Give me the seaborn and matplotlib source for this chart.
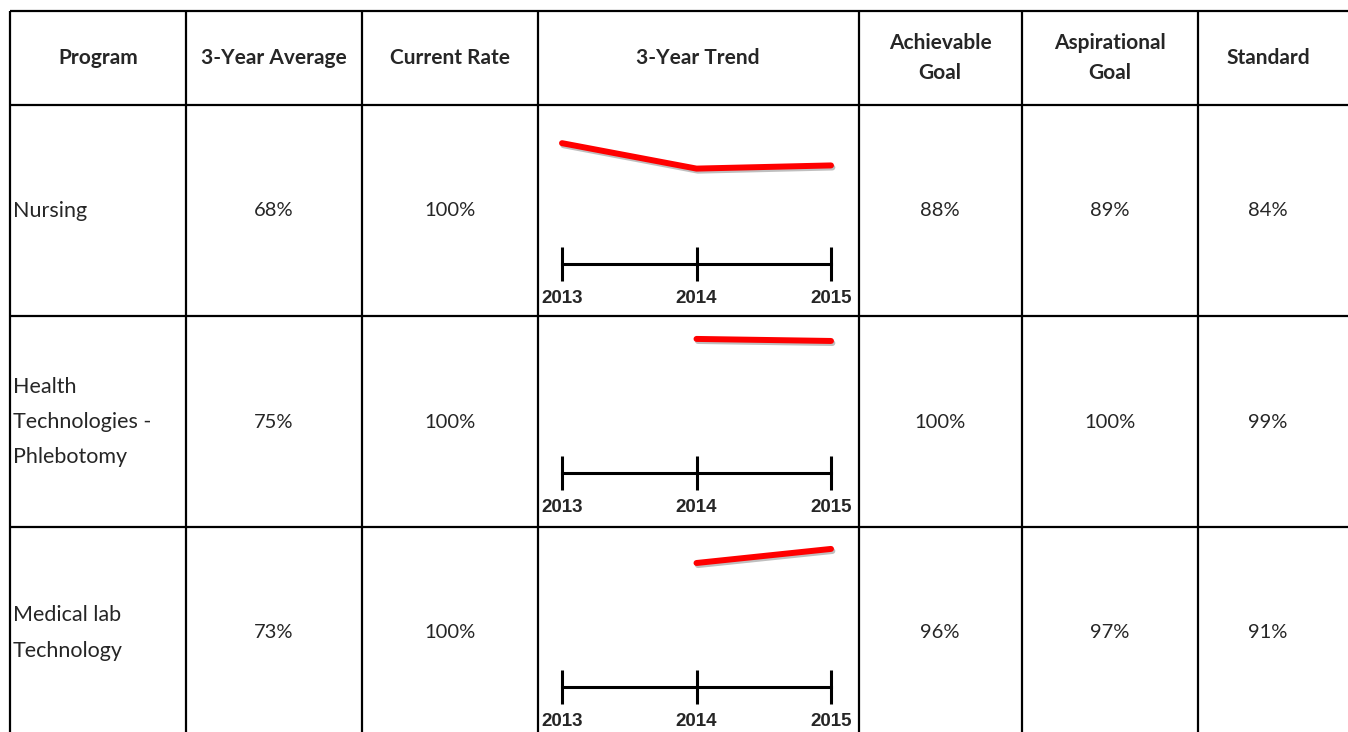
import matplotlib
matplotlib.use("Agg")
import matplotlib.pyplot as plt
import matplotlib.patheffects as pe
import pandas as pd
import seaborn as sns

# table data
headers = ["Program", "3-Year Average", "Current Rate", "3-Year Trend",
           "Achievable\nGoal", "Aspirational\nGoal", "Standard"]
programs = ["Nursing", "Health\nTechnologies -\nPhlebotomy", "Medical lab\nTechnology"]
three_year_avg = ["68%", "75%", "73%"]
current_rate = ["100%", "100%", "100%"]
achievable_goal = ["88%", "100%", "96%"]
aspirational_goal = ["89%", "100%", "97%"]
standard = ["84%", "99%", "91%"]

# sparkline data (trend, arbitrary 0-100 scale)
years = [2013, 2014, 2015]
trend_nursing = [76, 60, 62]
trend_phleb = [None, 85.4, 84.1]
trend_medlab = [None, 77.5, 86.3]
trends = [trend_nursing, trend_phleb, trend_medlab]

W, H = 1348, 732
col_edges = [10, 186, 362, 538, 859, 1022, 1198]
col_centers = [98, 274, 450, 698, 940, 1110, 1268]
row_edges = [11, 105, 316, 527]
row_centers = [211, 422, 633]
cell_tops = [105, 316, 527]
timeline_y = [264, 473, 687]

sns.set_style("white")
plt.rcParams['font.family'] = ['Lato', 'DejaVu Sans']

fig = plt.figure(figsize=(W / 100, H / 100), dpi=100)
ax = fig.add_axes([0, 0, 1, 1])
ax.set_xlim(0, W)
ax.set_ylim(H, 0)
ax.axis("off")

# grid lines
ax.hlines(row_edges, 10, W, color="black", lw=1.6)
ax.vlines(col_edges, 11, H, color="black", lw=1.6)

# header
for x, h in zip(col_centers, headers):
    ax.text(x, 58, h, ha="center", va="center", fontsize=15, fontweight="bold",
            linespacing=1.6)

# body
for i, yc in enumerate(row_centers):
    ax.text(13, yc, programs[i], ha="left", va="center", fontsize=15.5, linespacing=1.95)
    vals = [three_year_avg[i], current_rate[i], None,
            achievable_goal[i], aspirational_goal[i], standard[i]]
    for x, v in zip(col_centers[1:], vals):
        if v is not None:
            ax.text(x, yc, v, ha="center", va="center", fontsize=14.5)

# sparklines
for i in range(3):
    top = cell_tops[i]
    bottom = timeline_y[i]
    sax = fig.add_axes([562 / W, 1 - bottom / H, (831 - 562) / W, (bottom - top) / H])
    sax.patch.set_alpha(0)
    df = pd.DataFrame({"year": years, "value": trends[i]}).dropna()
    sns.lineplot(data=df, x="year", y="value", ax=sax, color="#ff0000", lw=4.3,
                 clip_on=False,
                 path_effects=[pe.SimpleLineShadow(offset=(1, -1.5), alpha=0.25),
                               pe.Normal()])
    sax.set_xlim(2013, 2015)
    sax.set_ylim(0, 100)
    sax.set_xticks(years)
    sax.set_xticklabels([str(y) for y in years], fontsize=13.5, fontweight="bold",
                        family=["Liberation Sans", "DejaVu Sans"])
    sax.set_yticks([])
    sax.set_xlabel("")
    sax.set_ylabel("")
    for s in ["left", "top", "right"]:
        sax.spines[s].set_visible(False)
    sax.spines["bottom"].set_linewidth(2.2)
    sax.spines["bottom"].set_color("black")
    sax.tick_params(axis="x", direction="inout", length=24, width=2.2,
                    color="black", pad=7, bottom=True)

fig.savefig("out.png", dpi=100)
